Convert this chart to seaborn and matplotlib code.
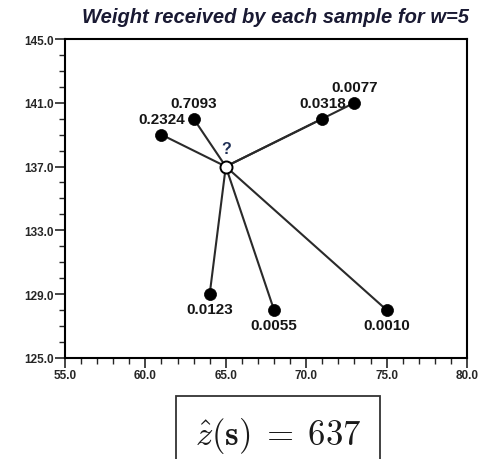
import matplotlib
matplotlib.use("Agg")
import matplotlib.pyplot as plt
import seaborn as sns
import pandas as pd
from matplotlib.ticker import MultipleLocator, FormatStrFormatter

# sample locations and the weight each one receives
sample_x = [61, 63, 71, 73, 64, 68, 75]
sample_y = [139, 140, 140, 141, 129, 128, 128]
weights = ["0.2324", "0.7093", "0.0318", "0.0077", "0.0123", "0.0055", "0.0010"]
label_above = [True, True, True, True, False, False, False]

# location being estimated
target_x, target_y = 65, 137
estimate = 637

x_ticks = [55, 60, 65, 70, 75, 80]
y_ticks = [125, 129, 133, 137, 141, 145]

sns.set_style("ticks")
plt.rcParams["font.family"] = ["Liberation Sans", "DejaVu Sans"]
plt.rcParams["mathtext.fontset"] = "cm"

df = pd.DataFrame({"x": sample_x, "y": sample_y, "w": weights})

fig = plt.figure(figsize=(4.81, 4.60), dpi=100)
ax = fig.add_axes([0.135, 0.22, 0.836, 0.693])

# lines from the unknown point to every sample
for x, y in zip(sample_x, sample_y):
    ax.plot([target_x, x], [target_y, y], color="#2a2a2a", lw=1.5, zorder=1)

sns.scatterplot(data=df, x="x", y="y", ax=ax, color="black", s=75,
                edgecolor="black", linewidth=0.5, zorder=3, legend=False)
ax.scatter([target_x], [target_y], s=75, facecolor="white",
           edgecolor="black", linewidth=1.4, zorder=4)

for x, y, w, up in zip(sample_x, sample_y, weights, label_above):
    ax.annotate(w, (x, y), textcoords="offset points",
                xytext=(0, 11 if up else -11), ha="center", va="center",
                fontsize=11, fontweight="bold", color="#151515")
ax.annotate("?", (target_x, target_y), textcoords="offset points",
            xytext=(0, 13), ha="center", va="center",
            fontsize=11.5, fontweight="bold", color="#1f2f55")

ax.set_xlim(55, 80)
ax.set_ylim(125, 145)
ax.set_xticks(x_ticks)
ax.set_yticks(y_ticks)
ax.xaxis.set_minor_locator(MultipleLocator(1))
ax.yaxis.set_minor_locator(MultipleLocator(1))
ax.xaxis.set_major_formatter(FormatStrFormatter("%.1f"))
ax.yaxis.set_major_formatter(FormatStrFormatter("%.1f"))
ax.tick_params(which="major", direction="out", length=7, width=1.2,
               labelsize=8.5, pad=1)
ax.tick_params(which="minor", direction="out", length=4, width=1.0)
for lab in ax.get_xticklabels() + ax.get_yticklabels():
    lab.set_fontweight("bold")
for sp in ax.spines.values():
    sp.set_linewidth(1.5)
    sp.set_color("black")
ax.set_xlabel("")
ax.set_ylabel("")

fig.text(0.572, 0.961, "Weight received by each sample for w=5",
         ha="center", va="center", fontsize=14.5, fontweight="bold",
         fontstyle="italic", color="#1a1a33")

fig.text(0.578, 0.053,
         r"$\hat{z}(\mathbf{s})\;\mathbf{=}\;\mathbf{%d}$" % estimate,
         ha="center", va="center", fontsize=25, color="#1a1a1a",
         bbox=dict(boxstyle="square,pad=0.55", facecolor="white",
                   edgecolor="#333333", linewidth=1.3))

fig.savefig("out.png", dpi=100)
